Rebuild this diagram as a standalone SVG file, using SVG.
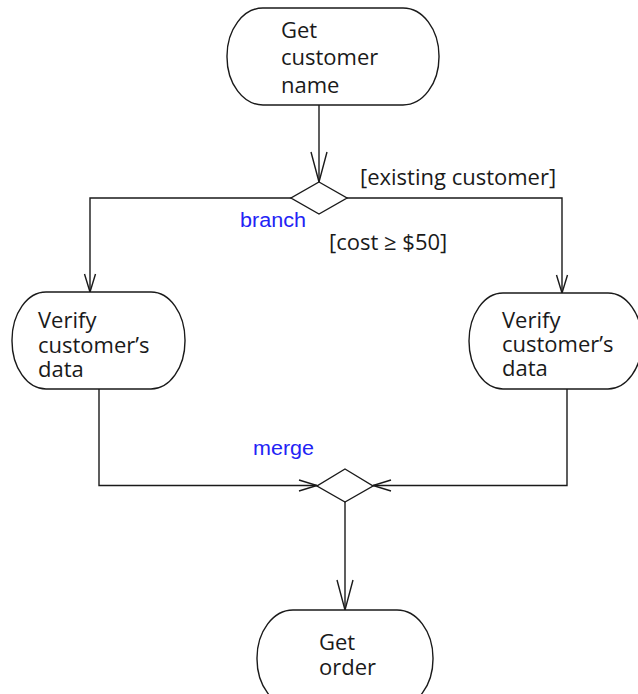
<svg xmlns="http://www.w3.org/2000/svg" width="638" height="694" viewBox="0 0 638 694">
<style>
.node{fill:#fff;stroke:#1a1a1a;stroke-width:1.4}
.t{font-family:"Open Sans","Noto Sans",sans-serif;font-size:22px;fill:#1a1a1a}
.b{font-family:"Liberation Sans",Arial,sans-serif;font-size:20px;fill:#2323f5}
.c{fill:none;stroke:#1a1a1a;stroke-width:1.4}
.dec{fill:#fff;stroke:#1a1a1a;stroke-width:1.4}
</style>
<defs>
<marker id="arrL" markerUnits="userSpaceOnUse" markerWidth="40" markerHeight="40" refX="0" refY="0" viewBox="-32 -20 40 40" orient="auto" overflow="visible">
<path d="M-30,-8 L0,0 L-30,8" fill="none" stroke="#1a1a1a" stroke-width="1.4"/>
</marker>
<marker id="arrS" markerUnits="userSpaceOnUse" markerWidth="40" markerHeight="40" refX="0" refY="0" viewBox="-32 -20 40 40" orient="auto" overflow="visible">
<path d="M-18,-5.5 L0,0 L-18,5.5" fill="none" stroke="#1a1a1a" stroke-width="1.4"/>
</marker>
</defs>
<g id="connectors">
<path class="c" d="M319,105 L319,182" marker-end="url(#arrL)"/>
<path class="c" d="M291,198 L90,198 L90,292" marker-end="url(#arrS)"/>
<path class="c" d="M347,198 L562,198 L562,293" marker-end="url(#arrS)"/>
<path class="c" d="M99,389 L99,485.5 L317,485.5" marker-end="url(#arrS)"/>
<path class="c" d="M567,389 L567,485.5 L373,485.5" marker-end="url(#arrS)"/>
<path class="c" d="M345,502 L345,610" marker-end="url(#arrL)"/>
</g>
<g id="get-customer-name">
<rect class="node" x="227" y="8" width="212" height="97" rx="36" ry="48"/>
<text class="t" x="281" y="38">Get</text>
<text class="t" x="281" y="65">customer</text>
<text class="t" x="281" y="93">name</text>
</g>
<g id="branch-node">
<polygon class="dec" points="319,182 347,198 319,214 291,198"/>
<text class="b" x="240" y="227" textLength="66" lengthAdjust="spacingAndGlyphs">branch</text>
</g>
<g id="guard-existing">
<text class="t" x="360" y="185">[existing customer]</text>
</g>
<g id="guard-cost">
<text class="t" x="329" y="250">[cost ≥ $50]</text>
</g>
<g id="verify-left">
<rect class="node" x="12" y="292" width="173" height="97" rx="34" ry="48"/>
<text class="t" x="38" y="328">Verify</text>
<text class="t" x="38" y="353">customer’s</text>
<text class="t" x="38" y="377">data</text>
</g>
<g id="verify-right">
<rect class="node" x="469" y="293" width="173" height="96" rx="34" ry="48"/>
<text class="t" x="502" y="328">Verify</text>
<text class="t" x="502" y="352">customer’s</text>
<text class="t" x="502" y="376">data</text>
</g>
<g id="merge-node">
<polygon class="dec" points="345,469 373,486 345,502 317,486"/>
<text class="b" x="253" y="455" textLength="61" lengthAdjust="spacingAndGlyphs">merge</text>
</g>
<g id="get-order">
<rect class="node" x="257" y="610" width="176" height="97" rx="36" ry="48"/>
<text class="t" x="319" y="650">Get</text>
<text class="t" x="319" y="675">order</text>
</g>
</svg>
